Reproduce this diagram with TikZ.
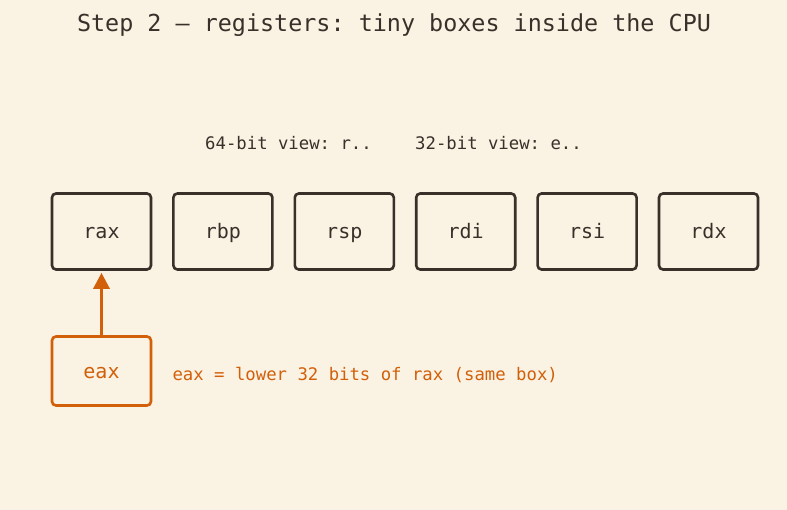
\documentclass[tikz,border=0pt]{standalone}
\usepackage{fontspec}
\setmonofont{DejaVu Sans Mono}
\usetikzlibrary{arrows.meta, positioning}
\definecolor{PaperCream}{RGB}{250, 242, 227}
\definecolor{InkDark}{RGB}{58, 48, 42}
\definecolor{CallOrange}{RGB}{210, 96, 10}

\begin{document}
\begin{tikzpicture}[x=1pt, y=-1pt, every node/.style={font=\ttfamily}]
        \tikzset{
            regbox/.style={draw=InkDark, line width=2.6pt, rounded corners=4pt,
                minimum width=99pt, minimum height=76pt, inner sep=0pt,
                text height=17pt, text depth=3pt,
                text=InkDark, font=\ttfamily\fontsize{20}{24}\selectfont},
            subbox/.style={regbox, draw=CallOrange, text=CallOrange, minimum height=69pt},
            caption/.style={text=InkDark, font=\ttfamily\fontsize{17.3}{20}\selectfont}
        }

        % --- canvas ---
        \fill[PaperCream] (0,0) rectangle (787,510);
        \useasboundingbox (0,0) rectangle (787,510);

        \node[text=InkDark, font=\ttfamily\fontsize{23.4}{28}\selectfont] (title) at (394,25.5)
            {Step 2 — registers: tiny boxes inside the CPU};

        % --- naming hints ---
        \node[caption] (view64) at (288.5,143) {64-bit view: r..};
        \node[caption] (view32) at (498.5,143) {32-bit view: e..};

        % --- the six 64-bit registers ---
        \foreach \reg [count=\i from 0] in {rax, rbp, rsp, rdi, rsi, rdx} {
            \node[regbox] (\reg) at ({101.5 + 121.4*\i}, 231.5) {\reg};
        }

        % --- lower half of rax ---
        \node[subbox] (eax) at (101.5,371) {eax};
        \draw[CallOrange, line width=3.2pt, -{Triangle[length=16pt, width=16pt]}]
            (eax.north) -- ([yshift=-2pt]rax.south);

        \node[caption, text=CallOrange, anchor=west] (eaxnote) at (169,375.5)
            {eax = lower 32 bits of rax (same box)};

    \end{tikzpicture}
\end{document}
